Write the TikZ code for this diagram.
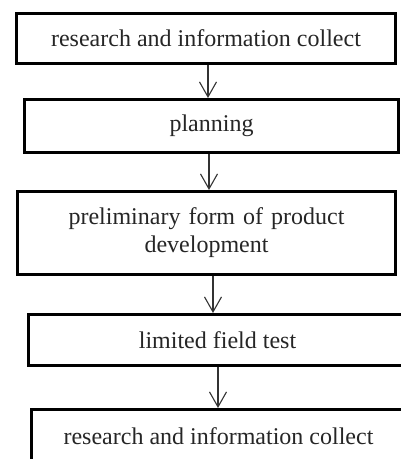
\documentclass[tikz,border=0pt]{standalone}
\usepackage{fontspec}
\setmainfont{Liberation Serif}
\usepackage{tikz}
\usetikzlibrary{arrows.meta, positioning}
\tikzset{
  stage/.style={rectangle,draw=black,line width=3pt,fill=white,text=black!85,
    font=\fontsize{24}{28}\selectfont,inner sep=0pt,minimum width=378pt,minimum height=50pt},
  stage_wide/.style={stage,minimum height=83pt,text width=360pt,align=center},
  flow/.style={line width=1.1pt,-{Straight Barb[length=15pt,width=17pt,line width=1.1pt]},black!80},
}

\begin{document}
\begin{tikzpicture}
	    \useasboundingbox (0,0) rectangle (401pt,-459pt);
	    \node[stage,minimum width=379pt] (RESEARCH) at (206pt,-38.5pt) {research and information collect};
	    \node[stage,below=33pt of RESEARCH,xshift=5.5pt,minimum width=374pt,minimum height=53pt] (PLANNING) {planning};
	    \node[stage_wide,below=36pt of PLANNING,xshift=-5pt] (PRELIM) {preliminary form of product\\development};
	    \node[stage,below=37pt of PRELIM,xshift=11pt,minimum height=51pt] (FIELD) {limited field test};
	    \node[stage,below=41pt of FIELD,xshift=1pt,minimum width=374pt,minimum height=54pt] (COLLECT) {research and information collect};
	    \draw[flow] ([xshift=2pt]RESEARCH.south) -- ([xshift=2pt]RESEARCH.south |- PLANNING.north);
	    \draw[flow] ([xshift=-2.5pt]PLANNING.south) -- ([xshift=-2.5pt]PLANNING.south |- PRELIM.north);
	    \draw[flow] ([xshift=6.5pt]PRELIM.south) -- ([xshift=6.5pt]PRELIM.south |- FIELD.north);
	    \draw[flow] ([xshift=0.5pt]FIELD.south) -- ([xshift=0.5pt]FIELD.south |- COLLECT.north);
	\end{tikzpicture}
\end{document}
